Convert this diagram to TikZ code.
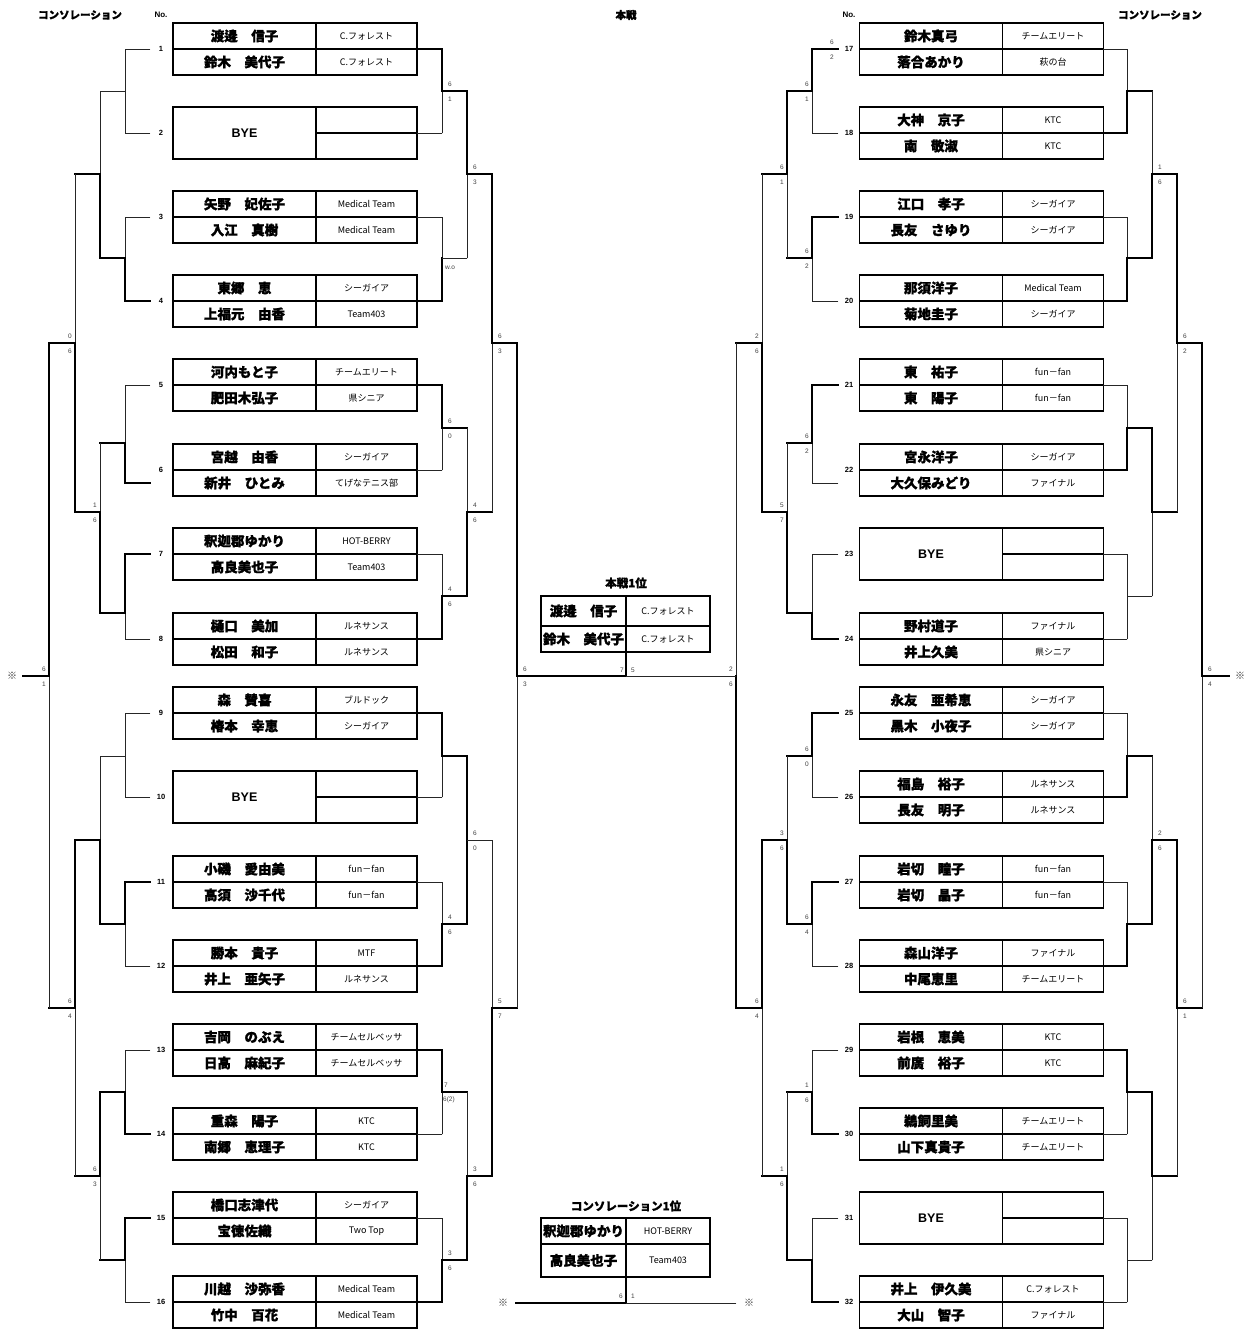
\documentclass[tikz,border=0pt]{standalone}
\usepackage{fontspec}
\setmainfont{Liberation Sans}
\newfontfamily\jp{Noto Sans CJK JP}[BoldFeatures={FakeBold=1.2}]
\newcounter{scn}
\tikzset{
  box/.style={line width=1.1pt,black},
  tnl/.style={line width=0.9pt,black!85,line cap=rect},
  tkl/.style={line width=2.4pt,black,line cap=rect},
  nm/.style={inner sep=0pt,font={\jp\bfseries\fontsize{13.5}{14}\selectfont}},
  cl/.style={inner sep=0pt,font={\jp\fontsize{9}{10}\selectfont}},
  bye/.style={inner sep=0pt,font={\bfseries\fontsize{12.5}{13}\selectfont}},
  num/.style={inner sep=0pt,font={\bfseries\fontsize{7.5}{8}\selectfont}},
  scs/.style={inner sep=0pt,text=black!75,font={\fontsize{6.5}{7}\selectfont}},
  hd/.style={inner sep=0pt,font={\jp\bfseries\fontsize{10.5}{11}\selectfont}},
  hdn/.style={inner sep=0pt,font={\bfseries\fontsize{8}{9}\selectfont}},
  kome/.style={inner sep=0pt,text=black!80,font={\jp\fontsize{10}{11}\selectfont}}
}
% entry box: id, xLeft, ymid, name1, club1, name2, club2
\newcommand\entry[7]{%
  \draw[box] (#2,#3-26) rectangle (#2+244,#3+26);
  \draw[box] (#2+143,#3-26) -- (#2+143,#3+26);
  \draw[box] (#2,#3) -- (#2+244,#3);
  \node[nm] (#1a) at (#2+71.5,#3-13) {#4};
  \node[cl] (#1b) at (#2+193.5,#3-13) {#5};
  \node[nm] (#1c) at (#2+71.5,#3+13) {#6};
  \node[cl] (#1d) at (#2+193.5,#3+13) {#7};
}
\newcommand\byeentry[3]{%
  \draw[box] (#2,#3-26) rectangle (#2+244,#3+26);
  \draw[box] (#2+143,#3-26) -- (#2+143,#3+26);
  \draw[box] (#2+143,#3) -- (#2+244,#3);
  \node[bye] (#1a) at (#2+71.5,#3) {BYE};
}
% fork: xin, xj, y1, yj, y2, h1, v1, h2, v2
\newcommand\fork[9]{%
  \draw[#6] (#1,#3) -- (#2,#3);
  \draw[#7] (#2,#3) -- (#2,#4);
  \draw[#8] (#1,#5) -- (#2,#5);
  \draw[#9] (#2,#5) -- (#2,#4);
}
\newcommand\scp[4]{\stepcounter{scn}%
  \node[scs] (sa\arabic{scn}) at (#1,#2-7) {#3};
  \node[scs] (sb\arabic{scn}) at (#1,#2+8) {#4};}
\begin{document}
\begin{tikzpicture}[x=1pt,y=-1pt]
\useasboundingbox (0,0) rectangle (1256,1331);
\fill[white] (0,0) rectangle (1256,1331);

% headers
\node[hd] (hL) at (80,15) {コンソレーション};
\node[hdn] (noL) at (161,15) {No.};
\node[hd] (hM) at (626,15) {本戦};
\node[hdn] (noR) at (849,15) {No.};
\node[hd] (hR) at (1160,15) {コンソレーション};

% ---------- left boxes ----------
\entry{e1}{173}{49}{渡邊　信子}{C.フォレスト}{鈴木　美代子}{C.フォレスト}
\byeentry{e2}{173}{133}
\entry{e3}{173}{217}{矢野　妃佐子}{Medical Team}{入江　真樹}{Medical Team}
\entry{e4}{173}{301}{東郷　恵}{シーガイア}{上福元　由香}{Team403}
\entry{e5}{173}{385}{河内もと子}{チームエリート}{肥田木弘子}{県シニア}
\entry{e6}{173}{470}{宮越　由香}{シーガイア}{新井　ひとみ}{てげなテニス部}
\entry{e7}{173}{554}{釈迦郡ゆかり}{HOT-BERRY}{高良美也子}{Team403}
\entry{e8}{173}{639}{樋口　美加}{ルネサンス}{松田　和子}{ルネサンス}
\entry{e9}{173}{713}{森　賛喜}{ブルドック}{椿本　幸恵}{シーガイア}
\byeentry{e10}{173}{797}
\entry{e11}{173}{882}{小磯　愛由美}{fun－fan}{高須　沙千代}{fun－fan}
\entry{e12}{173}{966}{勝本　貴子}{MTF}{井上　亜矢子}{ルネサンス}
\entry{e13}{173}{1050}{吉岡　のぶえ}{チームセルベッサ}{日高　麻紀子}{チームセルベッサ}
\entry{e14}{173}{1134}{重森　陽子}{KTC}{南郷　恵理子}{KTC}
\entry{e15}{173}{1218}{橋口志津代}{シーガイア}{宝徳佐織}{Two Top}
\entry{e16}{173}{1302}{川越　沙弥香}{Medical Team}{竹中　百花}{Medical Team}

% ---------- right boxes ----------
\entry{e17}{859.5}{49}{鈴木真弓}{チームエリート}{落合あかり}{萩の台}
\entry{e18}{859.5}{133}{大神　京子}{KTC}{南　敬淑}{KTC}
\entry{e19}{859.5}{217}{江口　孝子}{シーガイア}{長友　さゆり}{シーガイア}
\entry{e20}{859.5}{301}{那須洋子}{Medical Team}{菊地圭子}{シーガイア}
\entry{e21}{859.5}{385}{東　祐子}{fun－fan}{東　陽子}{fun－fan}
\entry{e22}{859.5}{470}{宮永洋子}{シーガイア}{大久保みどり}{ファイナル}
\byeentry{e23}{859.5}{554}
\entry{e24}{859.5}{639}{野村道子}{ファイナル}{井上久美}{県シニア}
\entry{e25}{859.5}{713}{永友　亜希恵}{シーガイア}{黒木　小夜子}{シーガイア}
\entry{e26}{859.5}{797}{福島　裕子}{ルネサンス}{長友　明子}{ルネサンス}
\entry{e27}{859.5}{882}{岩切　瞳子}{fun－fan}{岩切　晶子}{fun－fan}
\entry{e28}{859.5}{966}{森山洋子}{ファイナル}{中尾恵里}{チームエリート}
\entry{e29}{859.5}{1050}{岩根　恵美}{KTC}{前廣　裕子}{KTC}
\entry{e30}{859.5}{1134}{鵜飼里美}{チームエリート}{山下真貴子}{チームエリート}
\byeentry{e31}{859.5}{1218}
\entry{e32}{859.5}{1302}{井上　伊久美}{C.フォレスト}{大山　智子}{ファイナル}

% entry numbers
\foreach \k/\y in {1/49,2/133,3/217,4/301,5/385,6/470,7/554,8/639,9/713,10/797,11/882,12/966,13/1050,14/1134,15/1218,16/1302}
  \node[num] (nL\k) at (161,\y) {\k};
\foreach \k/\y in {17/49,18/133,19/217,20/301,21/385,22/470,23/554,24/639,25/713,26/797,27/882,28/966,29/1050,30/1134,31/1218,32/1302}
  \node[num] (nR\k) at (849,\y) {\k};

% ---------- left main ----------
\fork{417}{442}{49}{91}{133}{tkl}{tkl}{tnl}{tnl}
\fork{417}{442}{217}{258}{301}{tnl}{tnl}{tkl}{tkl}
\fork{417}{442}{385}{428}{470}{tkl}{tkl}{tnl}{tnl}
\fork{417}{442}{554}{596}{639}{tnl}{tnl}{tkl}{tkl}
\fork{417}{442}{713}{756}{797}{tkl}{tkl}{tnl}{tnl}
\fork{417}{442}{882}{924}{966}{tnl}{tnl}{tkl}{tkl}
\fork{417}{442}{1050}{1092}{1134}{tkl}{tkl}{tnl}{tnl}
\fork{417}{442}{1218}{1260}{1302}{tnl}{tnl}{tkl}{tkl}
\fork{442}{467}{91}{174}{258}{tkl}{tkl}{tnl}{tnl}
\fork{442}{467}{428}{512}{596}{tkl}{tnl}{tkl}{tkl}
\fork{442}{467}{756}{840}{924}{tkl}{tkl}{tkl}{tkl}
\fork{442}{467}{1092}{1176}{1260}{tkl}{tnl}{tkl}{tkl}
\fork{467}{492}{174}{343}{512}{tkl}{tkl}{tkl}{tnl}
\fork{467}{492}{840}{1008}{1176}{tnl}{tnl}{tkl}{tkl}
\fork{492}{517}{343}{676}{1008}{tkl}{tkl}{tkl}{tnl}

% ---------- left consolation ----------
\fork{150}{125}{49}{91}{133}{tnl}{tnl}{tnl}{tnl}
\fork{150}{125}{217}{258}{301}{tnl}{tnl}{tkl}{tkl}
\fork{150}{125}{385}{443}{483}{tnl}{tnl}{tkl}{tkl}
\fork{150}{125}{554}{613}{639}{tkl}{tkl}{tnl}{tnl}
\fork{150}{125}{713}{756}{797}{tnl}{tnl}{tnl}{tnl}
\fork{150}{125}{882}{924}{966}{tkl}{tkl}{tnl}{tnl}
\fork{150}{125}{1050}{1092}{1134}{tnl}{tnl}{tkl}{tkl}
\fork{150}{125}{1218}{1260}{1302}{tkl}{tkl}{tnl}{tnl}
\fork{125}{100}{91}{174}{258}{tnl}{tnl}{tkl}{tkl}
\fork{125}{100}{443}{512}{613}{tkl}{tnl}{tkl}{tkl}
\fork{125}{100}{756}{840}{924}{tnl}{tnl}{tkl}{tkl}
\fork{125}{100}{1092}{1176}{1260}{tkl}{tkl}{tkl}{tnl}
\fork{100}{75}{174}{343}{512}{tkl}{tnl}{tkl}{tkl}
\fork{100}{75}{840}{1008}{1176}{tkl}{tkl}{tkl}{tnl}
\fork{75}{49}{343}{676}{1008}{tkl}{tkl}{tkl}{tnl}
\coordinate (kL) at (23,676);
\draw[tkl] (49,676) -- (kL);

% ---------- right main ----------
\fork{838}{812}{49}{91}{133}{tkl}{tkl}{tnl}{tnl}
\fork{838}{812}{217}{258}{301}{tkl}{tkl}{tnl}{tnl}
\fork{838}{812}{385}{443}{483}{tkl}{tkl}{tnl}{tnl}
\fork{838}{812}{554}{613}{639}{tnl}{tnl}{tkl}{tkl}
\fork{838}{812}{713}{756}{797}{tkl}{tkl}{tnl}{tnl}
\fork{838}{812}{882}{924}{966}{tkl}{tkl}{tnl}{tnl}
\fork{838}{812}{1050}{1092}{1134}{tnl}{tnl}{tkl}{tkl}
\fork{838}{812}{1218}{1260}{1302}{tnl}{tnl}{tkl}{tkl}
\fork{812}{787}{91}{174}{258}{tkl}{tkl}{tkl}{tnl}
\fork{812}{787}{443}{512}{613}{tkl}{tnl}{tkl}{tkl}
\fork{812}{787}{756}{840}{924}{tkl}{tnl}{tkl}{tkl}
\fork{812}{787}{1092}{1176}{1260}{tkl}{tnl}{tkl}{tkl}
\fork{787}{762}{174}{343}{512}{tkl}{tnl}{tkl}{tkl}
\fork{787}{762}{840}{1008}{1176}{tkl}{tkl}{tkl}{tnl}
\fork{762}{736}{343}{676}{1008}{tkl}{tnl}{tkl}{tkl}

% ---------- right consolation ----------
\fork{1103}{1127}{49}{91}{133}{tnl}{tnl}{tkl}{tkl}
\fork{1103}{1127}{217}{258}{301}{tnl}{tnl}{tkl}{tkl}
\fork{1103}{1127}{385}{428}{470}{tnl}{tnl}{tkl}{tkl}
\fork{1103}{1127}{554}{596}{639}{tnl}{tnl}{tnl}{tnl}
\fork{1103}{1127}{713}{756}{797}{tnl}{tnl}{tkl}{tkl}
\fork{1103}{1127}{882}{924}{966}{tnl}{tnl}{tkl}{tkl}
\fork{1103}{1127}{1050}{1092}{1134}{tkl}{tkl}{tnl}{tnl}
\fork{1103}{1127}{1218}{1260}{1302}{tnl}{tnl}{tnl}{tnl}
\fork{1127}{1152}{91}{174}{258}{tkl}{tnl}{tkl}{tkl}
\fork{1127}{1152}{428}{512}{596}{tkl}{tkl}{tnl}{tnl}
\fork{1127}{1152}{756}{840}{924}{tkl}{tnl}{tkl}{tkl}
\fork{1127}{1152}{1092}{1176}{1260}{tkl}{tkl}{tnl}{tnl}
\fork{1152}{1177}{174}{343}{512}{tkl}{tkl}{tkl}{tnl}
\fork{1152}{1177}{840}{1008}{1176}{tkl}{tkl}{tkl}{tnl}
\fork{1177}{1202}{343}{676}{1008}{tkl}{tkl}{tkl}{tnl}
\coordinate (kR) at (1229,676);
\draw[tkl] (1202,676) -- (kR);

% ---------- champion boxes ----------
\node[hd,font={\jp\bfseries\fontsize{11.5}{12}\selectfont}] (t1) at (626,583) {本戦1位};
\draw[box] (541,596) rectangle (710,652);
\draw[box] (626,596) -- (626,652);
\draw[box] (541,626) -- (710,626);
\node[nm] (w1a) at (583.5,611) {渡邊　信子};
\node[cl] (w1b) at (668,611) {C.フォレスト};
\node[nm] (w1c) at (583.5,639) {鈴木　美代子};
\node[cl] (w1d) at (668,639) {C.フォレスト};
\coordinate (fA) at (626,652);
\coordinate (fB) at (626,676);
\draw[tkl] (fA) -- (fB);
\draw[tkl] (517,676) -- (fB);
\draw[tnl] (fB) -- (736,676);

\node[hd,font={\jp\bfseries\fontsize{11.5}{12}\selectfont}] (t2) at (626,1206) {コンソレーション1位};
\draw[box] (541,1218) rectangle (710,1277);
\draw[box] (626,1218) -- (626,1277);
\draw[box] (541,1244) -- (710,1244);
\node[nm] (w2a) at (583.5,1231) {釈迦郡ゆかり};
\node[cl] (w2b) at (668,1231) {HOT-BERRY};
\node[nm] (w2c) at (583.5,1260.5) {高良美也子};
\node[cl] (w2d) at (668,1260.5) {Team403};
\coordinate (gA) at (626,1277);
\coordinate (gB) at (626,1303);
\coordinate (gL) at (516,1303);
\coordinate (gR) at (736,1303);
\draw[tkl] (gA) -- (gB);
\draw[tkl] (gL) -- (gB);
\draw[tnl] (gB) -- (gR);

% kome marks
\node[kome] (k1) at (12,676) {※};
\node[kome] (k2) at (1240,676) {※};
\node[kome] (k3) at (503,1303) {※};
\node[kome] (k4) at (749,1303) {※};

% ---------- scores ----------
% left main
\scp{450}{91}{6}{1}
\node[scs] (wo) at (450,268) {w.o};
\scp{450}{428}{6}{0}
\scp{450}{596}{4}{6}
\scp{450}{924}{4}{6}
\node[scs] (s7) at (446,1085) {7};
\node[scs,anchor=west] (s62) at (443,1100) {6(2)};
\scp{450}{1260}{3}{6}
\scp{475}{174}{6}{3}
\scp{475}{512}{4}{6}
\scp{475}{840}{6}{0}
\scp{475}{1176}{3}{6}
\scp{500}{343}{6}{3}
\scp{500}{1008}{5}{7}
\scp{525}{676}{6}{3}
% left consolation
\scp{70}{343}{0}{6}
\scp{70}{1008}{6}{4}
\scp{95}{512}{1}{6}
\scp{95}{1176}{6}{3}
\scp{44}{676}{6}{1}
% right main
\scp{832}{49}{6}{2}
\scp{807}{91}{6}{1}
\scp{807}{258}{6}{2}
\scp{807}{443}{6}{2}
\scp{807}{756}{6}{0}
\scp{807}{924}{6}{4}
\scp{807}{1092}{1}{6}
\scp{782}{174}{6}{1}
\scp{782}{512}{5}{7}
\scp{782}{840}{3}{6}
\scp{782}{1176}{1}{6}
\scp{757}{343}{2}{6}
\scp{757}{1008}{6}{4}
\scp{731}{676}{2}{6}
% right consolation
\scp{1160}{174}{1}{6}
\scp{1160}{840}{2}{6}
\scp{1185}{343}{6}{2}
\scp{1185}{1008}{6}{1}
\scp{1210}{676}{6}{4}
% finals
\node[scs] (f7) at (622,670) {7};
\node[scs] (f5) at (633,670) {5};
\node[scs] (c6) at (621,1296) {6};
\node[scs] (c1) at (633,1296) {1};
\end{tikzpicture}
\end{document}
